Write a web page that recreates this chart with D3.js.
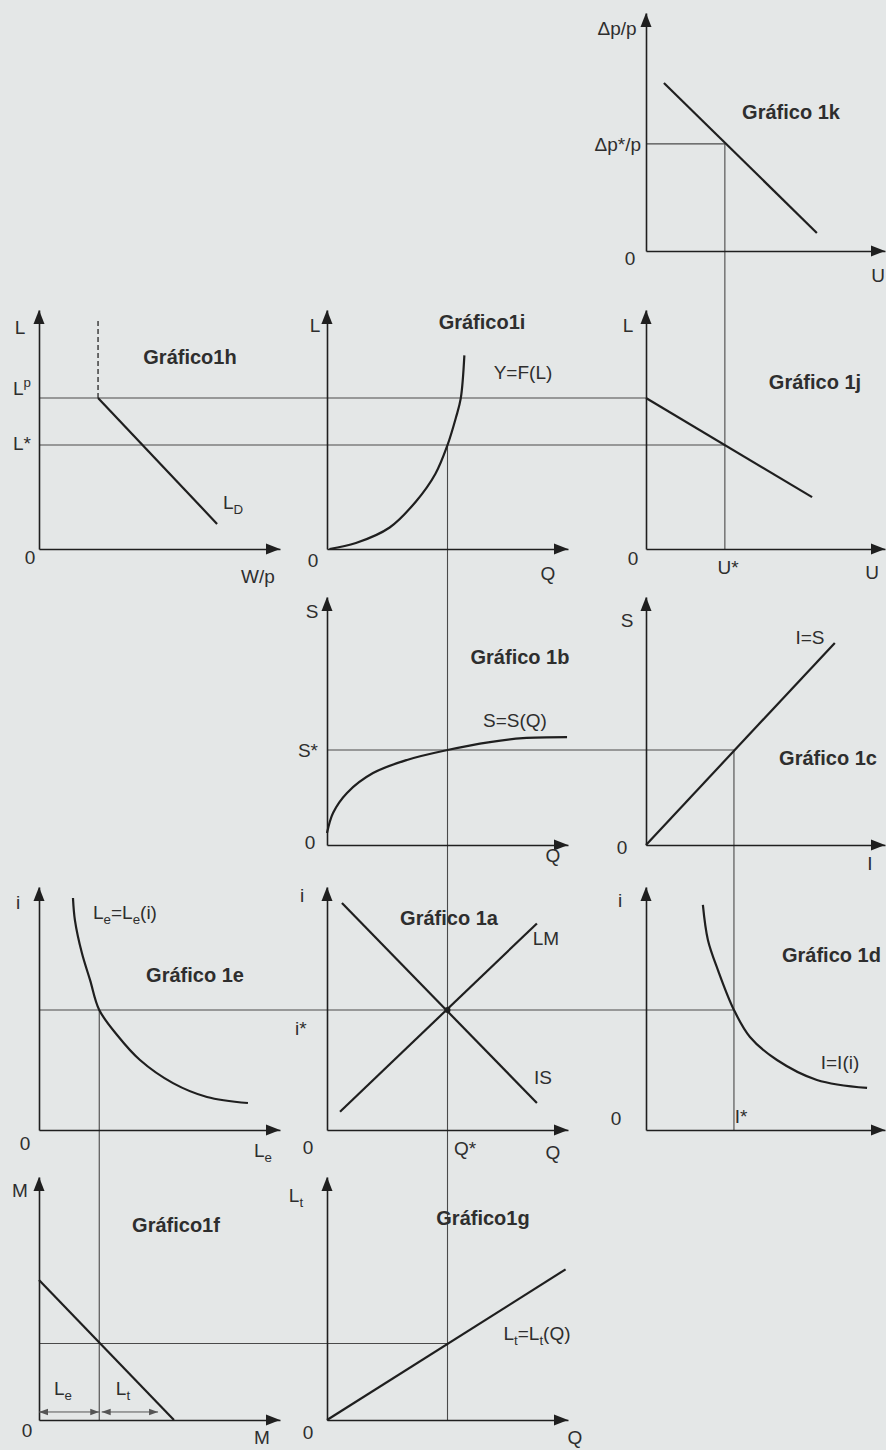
<!DOCTYPE html>
<html>
<head>
<meta charset="utf-8">
<script src="https://cdn.jsdelivr.net/npm/d3@7"></script>
<style>
  html, body { margin: 0; padding: 0; background: #e4e7e7; }
  svg { display: block; font-family: "Liberation Sans", Arial, sans-serif; }
</style>
</head>
<body>
<svg id="chart" width="886" height="1450"></svg>
<script>
// All values are in axis units (0..10 on every axis).

// Gráfico 1k – Phillips curve
const INFL_STAR = 4.5, U_STAR = 3.3;
const phillips = [[0.75, 7.06], [7.15, 0.76]];

// Gráfico 1h / 1i / 1j – labour market, production, Okun
const L_P = 6.32, L_STAR = 4.35, Q_STAR = 5.0;
const laborDemand = [[2.45, 6.32], [7.39, 1.05]];
const laborDemandTop = 9.58;
const production = [[0.1, 0], [1.2, 0.25], [2.6, 0.9], [3.7, 2.0], [4.5, 3.15], [5.0, 4.35], [5.35, 5.5], [5.55, 6.3], [5.7, 8.1]];
const okun = [[0, 6.32], [6.95, 2.17]];

// Gráfico 1b / 1c – savings
const S_STAR = 3.83, I_STAR = 3.68;
const savings = [[0, 0.48], [0.25, 1.29], [0.83, 2.1], [1.91, 2.9], [3.32, 3.43], [5.0, 3.83], [6.76, 4.15], [8.13, 4.31], [9.96, 4.35]];
const investSave = [[0, 0], [7.9, 8.15]];

// Gráfico 1e / 1a / 1d – money, IS-LM, investment
const I_RATE = 4.94, LE_STAR = 2.5;
const moneyDemand = [[1.41, 9.55], [1.49, 8.64], [1.78, 7.28], [2.12, 6.17], [2.5, 4.94], [3.24, 3.91], [4.19, 2.88], [5.56, 1.93], [6.97, 1.36], [8.67, 1.11]];
const isCurve = [[0.62, 9.34], [8.71, 1.11]];
const lmCurve = [[0.54, 0.75], [8.71, 8.5]];
const investment = [[2.38, 9.26], [2.59, 7.82], [3.01, 6.58], [3.68, 4.94], [4.35, 3.83], [5.48, 2.88], [7.15, 2.06], [9.25, 1.73]];

// Gráfico 1f / 1g – money split, transactions demand
const LT_STAR = 3.15;
const moneySplit = [[0, 5.76], [5.6, 0]];
const transDemand = [[0, 0], [9.9, 6.2]];
const splitArrowY = 0.33;
const splitLe = [0, LE_STAR], splitLt = [2.6, 4.94];

// ---- layout ----
const colRange = [[39, 280], [327, 568], [646, 885]];
const rowRange = [[251, 13], [549, 310], [845, 597], [1130, 887], [1420, 1177]];
const X = colRange.map(r => d3.scaleLinear().domain([0, 10]).range(r));
const Y = rowRange.map(r => d3.scaleLinear().domain([0, 10]).range(r));

const panels = [
  { id: '1k', c: 2, r: 0 }, { id: '1h', c: 0, r: 1 }, { id: '1i', c: 1, r: 1 }, { id: '1j', c: 2, r: 1 },
  { id: '1b', c: 1, r: 2 }, { id: '1c', c: 2, r: 2 },
  { id: '1e', c: 0, r: 3 }, { id: '1a', c: 1, r: 3 }, { id: '1d', c: 2, r: 3 },
  { id: '1f', c: 0, r: 4 }, { id: '1g', c: 1, r: 4 }
];

const curves = [
  { c: 2, r: 0, pts: phillips }, { c: 0, r: 1, pts: laborDemand }, { c: 1, r: 1, pts: production, smooth: true },
  { c: 2, r: 1, pts: okun }, { c: 1, r: 2, pts: savings, smooth: true }, { c: 2, r: 2, pts: investSave },
  { c: 0, r: 3, pts: moneyDemand, smooth: true }, { c: 1, r: 3, pts: isCurve }, { c: 1, r: 3, pts: lmCurve },
  { c: 2, r: 3, pts: investment, smooth: true }, { c: 0, r: 4, pts: moneySplit }, { c: 1, r: 4, pts: transDemand }
];

// guide lines: horizontal [row, value, col0, x0, col1, x1], vertical [col, value, row0, y0, row1, y1]
const hGuides = [
  [0, INFL_STAR, 2, 0, 2, U_STAR], [1, L_P, 0, 0, 2, 0], [1, L_STAR, 0, 0, 2, U_STAR],
  [2, S_STAR, 1, 0, 2, I_STAR], [3, I_RATE, 0, 0, 2, I_STAR], [4, LT_STAR, 0, 0, 1, Q_STAR]
];
const vGuides = [
  [2, U_STAR, 0, INFL_STAR, 1, 0], [1, Q_STAR, 1, L_STAR, 4, 0],
  [2, I_STAR, 2, S_STAR, 3, 0], [0, LE_STAR, 3, I_RATE, 4, 0]
];

// labels: text, x, baseline y, anchor, bold
const labels = [
  ['Δp/p', 617, 35], ['Δp*/p', 641, 151, 'end'], ['Gráfico 1k', 791, 119, 'middle', 1], ['0', 630, 265], ['U', 878, 282],
  ['L', 20, 334], ['L^{p}', 13, 395, 'start'], ['L*', 13, 450, 'start'], ['Gráfico1h', 190, 364, 'middle', 1],
  ['L_{D}', 223, 509, 'start'], ['0', 30, 564], ['W/p', 258, 583],
  ['L', 315, 332], ['Gráfico1i', 482, 329, 'middle', 1], ['Y=F(L)', 523, 379], ['0', 313, 567], ['Q', 548, 580],
  ['L', 628, 332], ['Gráfico 1j', 815, 389, 'middle', 1], ['0', 633, 565], ['U*', 728, 574], ['U', 872, 579],
  ['S', 312, 618], ['S*', 318, 757, 'end'], ['Gráfico 1b', 520, 664, 'middle', 1], ['S=S(Q)', 515, 727],
  ['0', 310, 849], ['Q', 553, 862],
  ['S', 627, 627], ['I=S', 810, 644], ['Gráfico 1c', 828, 765, 'middle', 1], ['0', 622, 854], ['I', 870, 870],
  ['i', 18, 909], ['L_{e}=L_{e}(i)', 93, 919, 'start'], ['Gráfico 1e', 195, 982, 'middle', 1], ['0', 25, 1150], ['L_{e}', 263, 1157],
  ['i', 302, 902], ['i*', 295, 1035, 'start'], ['Gráfico 1a', 449, 925, 'middle', 1], ['LM', 546, 945], ['IS', 543, 1084],
  ['0', 308, 1154], ['Q*', 465, 1155], ['Q', 553, 1159],
  ['i', 620, 907], ['Gráfico 1d', 782, 962, 'start', 1], ['I=I(i)', 840, 1069], ['0', 616, 1125], ['I*', 741, 1123],
  ['M', 20, 1197], ['Gráfico1f', 176, 1232, 'middle', 1], ['L_{e}', 63, 1395], ['L_{t}', 123, 1395], ['0', 27, 1437], ['M', 262, 1444],
  ['L_{t}', 296, 1202], ['Gráfico1g', 483, 1225, 'middle', 1], ['L_{t}=L_{t}(Q)', 537, 1340], ['0', 308, 1439], ['Q', 575, 1444]
];

const svg = d3.select('#chart');
const INK = '#1f1f1f', GUIDE = '#4a4a4a';

svg.append('defs').append('marker')
  .attr('id', 'dimArrow').attr('viewBox', '0 0 10 10').attr('refX', 10).attr('refY', 5)
  .attr('markerWidth', 9).attr('markerHeight', 9).attr('markerUnits', 'userSpaceOnUse')
  .attr('orient', 'auto-start-reverse')
  .append('path').attr('d', 'M0,1.5L10,5L0,8.5Z').attr('fill', '#555');

// guide lines
const gGuide = svg.append('g').attr('stroke', GUIDE).attr('stroke-width', 1.1).attr('fill', 'none');
hGuides.forEach(([r, v, c0, x0, c1, x1]) => {
  gGuide.append('line').attr('x1', X[c0](x0)).attr('x2', X[c1](x1)).attr('y1', Y[r](v)).attr('y2', Y[r](v));
});
vGuides.forEach(([c, v, r0, y0, r1, y1]) => {
  gGuide.append('line').attr('x1', X[c](v)).attr('x2', X[c](v)).attr('y1', Y[r0](y0)).attr('y2', Y[r1](y1));
});

// dashed vertical cap of labour demand (1h)
svg.append('line')
  .attr('x1', X[0](laborDemand[0][0])).attr('x2', X[0](laborDemand[0][0]))
  .attr('y1', Y[1](laborDemand[0][1])).attr('y2', Y[1](laborDemandTop))
  .attr('stroke', '#333').attr('stroke-width', 1.4).attr('stroke-dasharray', '5,3');

// axes
panels.forEach(p => {
  const x = X[p.c], y = Y[p.r];
  const g = svg.append('g').attr('class', 'panel p' + p.id);
  g.append('g').attr('transform', `translate(0,${y(0)})`)
    .call(d3.axisBottom(x).tickValues([]).tickSizeOuter(0));
  g.append('g').attr('transform', `translate(${x(0)},0)`)
    .call(d3.axisLeft(y).tickValues([]).tickSizeOuter(0));
  g.selectAll('.domain').attr('stroke', INK).attr('stroke-width', 1.6);
  const tx = x(10), ty = y(0), ux = x(0), uy = y(10);
  g.append('path').attr('d', `M${tx},${ty}L${tx - 14},${ty - 5.5}L${tx - 14},${ty + 5.5}Z`).attr('fill', INK);
  g.append('path').attr('d', `M${ux},${uy}L${ux - 5.5},${uy + 14}L${ux + 5.5},${uy + 14}Z`).attr('fill', INK);
});

// curves
curves.forEach(cv => {
  const line = d3.line().x(d => X[cv.c](d[0])).y(d => Y[cv.r](d[1]))
    .curve(cv.smooth ? d3.curveCatmullRom.alpha(0.5) : d3.curveLinear);
  svg.append('path').attr('d', line(cv.pts)).attr('fill', 'none')
    .attr('stroke', INK).attr('stroke-width', 2.2).attr('stroke-linecap', 'butt');
});

// IS-LM equilibrium point
svg.append('circle').attr('cx', X[1](Q_STAR)).attr('cy', Y[3](I_RATE)).attr('r', 3).attr('fill', INK);

// dimension arrows in 1f
[splitLe, splitLt].forEach(s => {
  svg.append('line')
    .attr('x1', X[0](s[0])).attr('x2', X[0](s[1]))
    .attr('y1', Y[4](splitArrowY)).attr('y2', Y[4](splitArrowY))
    .attr('stroke', '#555').attr('stroke-width', 1)
    .attr('marker-start', 'url(#dimArrow)').attr('marker-end', 'url(#dimArrow)');
});

// text
function richText(sel, str) {
  const parts = str.split(/([_^]\{[^}]*\})/).filter(s => s.length);
  let shift = 0;
  parts.forEach(p => {
    const m = p.match(/^([_^])\{([^}]*)\}$/);
    const t = sel.append('tspan');
    if (m) {
      const target = m[1] === '_' ? 5 : -8;
      t.attr('dy', target - shift).attr('font-size', '0.7em').text(m[2]);
      shift = target;
    } else {
      t.attr('dy', -shift).text(p);
      shift = 0;
    }
  });
}

const gText = svg.append('g').attr('fill', '#2e2e2e');
labels.forEach(([txt, x, y, anchor, bold]) => {
  const t = gText.append('text').attr('x', x).attr('y', y)
    .attr('text-anchor', anchor || 'middle')
    .attr('font-size', bold ? 20 : 19)
    .attr('font-weight', bold ? 'bold' : 'normal');
  richText(t, txt);
});
</script>
</body>
</html>
